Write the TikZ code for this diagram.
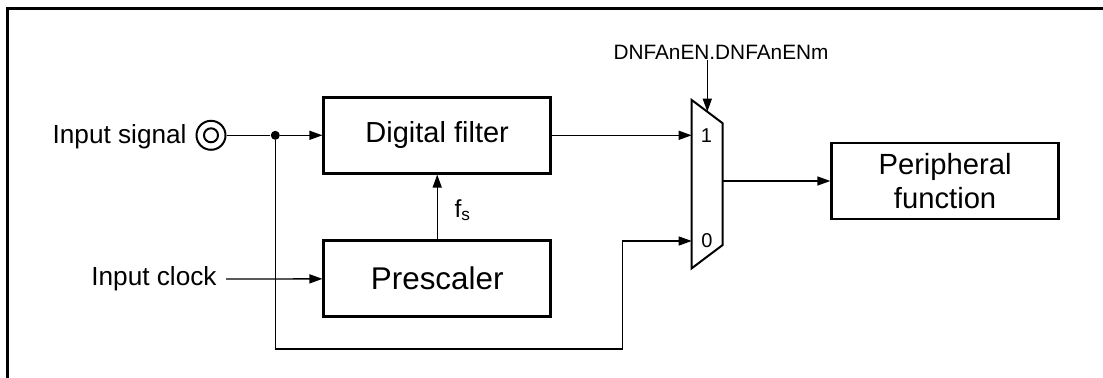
\documentclass[tikz,border=0pt]{standalone}
\usepackage{fontspec}
\setmainfont{Liberation Sans}
\usetikzlibrary{arrows.meta}

\begin{document}
\begin{tikzpicture}[
		x=0.5pt, y=-0.5pt,
		block/.style = {
			draw, line width=1.25pt, align=center,
			minimum width=113.5pt, minimum height=38pt, inner sep=0pt},
		wire/.style = {line width=0.65pt},
		arr/.style = {wire, -{Triangle[length=6.5pt,width=4.5pt]}},
		sig/.style = {font=\fontsize{13.1}{15}\selectfont, inner sep=0pt},
		muxin/.style = {font=\fontsize{10}{12}\selectfont, inner sep=0pt},
		dot/.style = {circle, fill, minimum size=4.5pt, inner sep=0pt}]

	\useasboundingbox (0,0) rectangle (1103,378);
	\draw[line width=1.25pt] (7.5,378) |- (1103,8.3);

	\node[block, font=\fontsize{14.5}{17}\selectfont] (filter) at (437.2,135.3) {Digital filter};
	\node[block, font=\fontsize{15.7}{18}\selectfont] (presc) at (437.2,278.7) {Prescaler};
	\node[block, font=\fontsize{14.6}{16.7}\selectfont] (periph) at (945.1,181) {Peripheral\\function};

	\node[sig, anchor=base east] (insig) at (187,143.3) {Input signal};
	\node[sig, anchor=base east] (inclk) at (217,286) {Input clock};
	\node[circle, draw, line width=1pt, minimum size=14.5pt, inner sep=0pt] (pin) at (211,135.3) {};
	\draw[line width=1pt] (pin) circle[radius=7];
	\node[dot] (tap) at (275.3,135.3) {};

	\coordinate (m1) at (691.7,100);
	\coordinate (m2) at (722.7,123.3);
	\coordinate (m3) at (722.7,245);
	\coordinate (m4) at (691.7,268.3);
	\draw[line width=1pt] (m1) -- (m2) -- (m3) -- (m4) -- cycle;
	\coordinate (in1) at (691.7,135.3);
	\coordinate (in0) at (691.7,241);
	\coordinate (mout) at (722.7,181);
	\coordinate (msel) at (707.3,111.7);
	\coordinate (bend) at (622.5,349);
	\node[muxin] at (706.5,136) {1};
	\node[muxin] at (707,241) {0};
	\node[font=\fontsize{10.4}{12}\selectfont, inner sep=0pt] (sellbl) at (721,52) {DNFAnEN.DNFAnENm};

	\draw[wire] (pin) -- (tap);
	\draw[arr] (tap) -- (filter);
	\draw[arr] (tap) |- (bend) |- (in0);
	\draw[arr] (226,279) -- (presc);
	\draw[arr] (presc) -- (filter) node[pos=0.45, right=5pt, font=\fontsize{12.3}{14}\selectfont] {f\textsubscript{s}};
	\draw[arr] (filter) -- (in1);
	\draw[arr] (sellbl.south -| msel) -- (msel);
	\draw[arr] (mout) -- (periph);
\end{tikzpicture}
\end{document}
